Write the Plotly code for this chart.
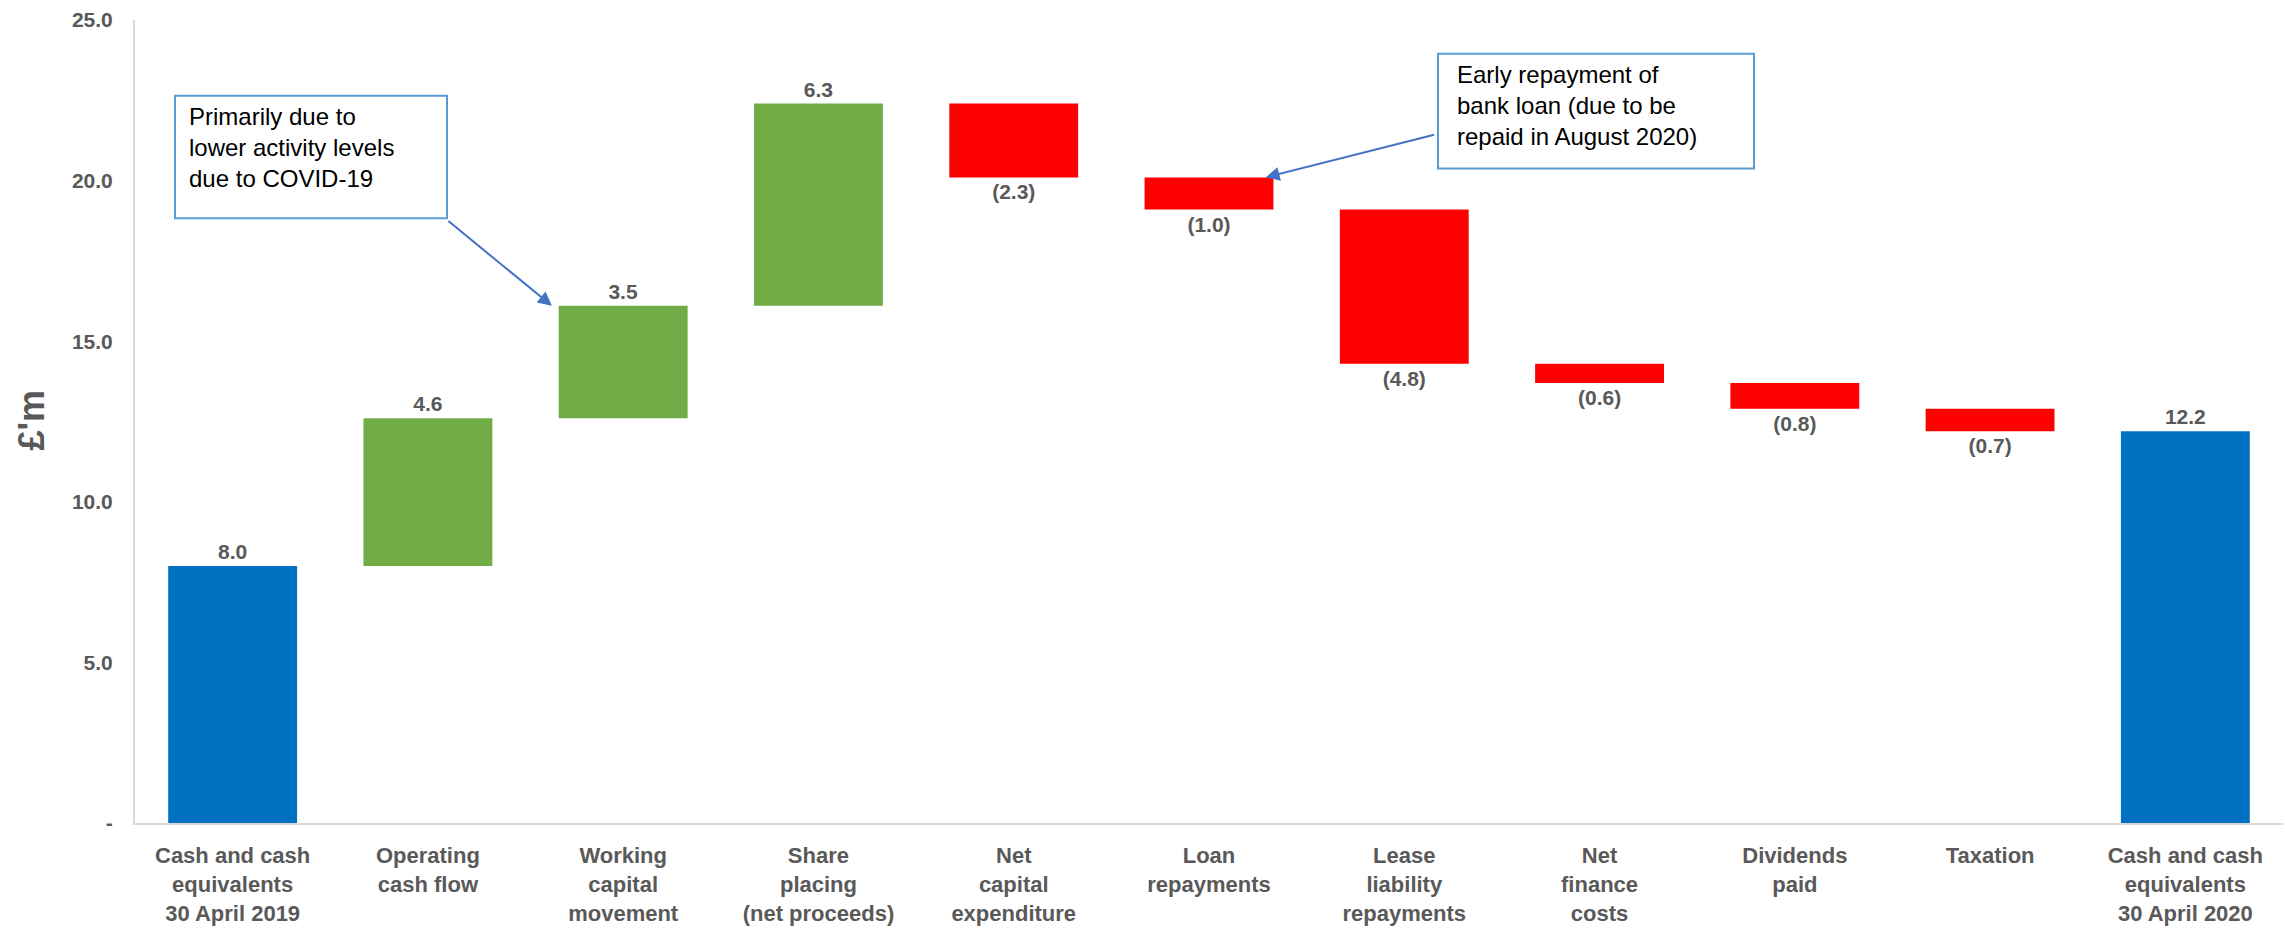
import plotly.graph_objects as go

categories = [
    "Cash and cash<br>equivalents<br>30 April 2019",
    "Operating<br>cash flow",
    "Working<br>capital<br>movement",
    "Share<br>placing<br>(net proceeds)",
    "Net<br>capital<br>expenditure",
    "Loan<br>repayments",
    "Lease<br>liability<br>repayments",
    "Net<br>finance<br>costs",
    "Dividends<br>paid",
    "Taxation",
    "Cash and cash<br>equivalents<br>30 April 2020",
]
values = [8.0, 4.6, 3.5, 6.3, -2.3, -1.0, -4.8, -0.6, -0.8, -0.7, 12.2]
kinds = ["total", "up", "up", "up", "down", "down", "down", "down", "down", "down", "total"]
ytick_vals = [0, 5, 10, 15, 20, 25]
ytick_text = ["-", "5.0", "10.0", "15.0", "20.0", "25.0"]

COLORS = {"total": "#0070C0", "up": "#70AD47", "down": "#FF0000"}
GREY = "#595959"
FONT = "Liberation Sans, Arial, sans-serif"

# compute bases
bases, heights, tops = [], [], []
running = 0.0
for v, k in zip(values, kinds):
    if k == "total":
        bases.append(0.0)
        heights.append(v)
        running = v
    else:
        bases.append(running)
        heights.append(v)
        running += v
    tops.append(max(bases[-1], bases[-1] + heights[-1]))

labels = [f"{v:.1f}" if v >= 0 else f"({abs(v):.1f})" for v in values]

fig = go.Figure()
fig.add_trace(go.Bar(
    x=list(range(len(categories))),
    y=heights,
    base=bases,
    marker=dict(color=[COLORS[k] for k in kinds], line=dict(width=0)),
    text=labels,
    textposition="outside",
    textfont=dict(family=FONT, size=21, color=GREY, weight="bold"),
    cliponaxis=False,
    hoverinfo="skip",
))

W, H = 2285, 928
L, R, T, B = 135, 2, 20, 102
pw, ph = W - L - R, H - T - B


def px(xp):
    return (xp - L) / pw


def py(yp):
    return (H - B - yp) / ph


shapes = [
    dict(type="rect", xref="paper", yref="paper",
         x0=px(175), x1=px(447), y0=py(219), y1=py(96),
         line=dict(color="#5B9BD5", width=2), fillcolor="white"),
    dict(type="rect", xref="paper", yref="paper",
         x0=px(1438), x1=px(1754), y0=py(169), y1=py(54),
         line=dict(color="#5B9BD5", width=2), fillcolor="white"),
]

annotations = [
    dict(xref="paper", yref="paper", x=px(187), y=py(101), xanchor="left", yanchor="top",
         text="Primarily due to<br>lower activity levels<br>due to COVID-19",
         align="left", showarrow=False,
         font=dict(family=FONT, size=24, color="black")),
    dict(xref="paper", yref="paper", x=px(1455), y=py(59), xanchor="left", yanchor="top",
         text="Early repayment of<br>bank loan (due to be<br>repaid in August 2020)",
         align="left", showarrow=False,
         font=dict(family=FONT, size=24, color="black")),
    dict(x=2 - 0.365, y=tops[2], xref="x", yref="y", text="", showarrow=True,
         ax=-105, ay=-86, arrowhead=2, arrowsize=1.4, arrowwidth=2,
         arrowcolor="#4472C4", standoff=0),
    dict(x=5 + 0.29, y=tops[5], xref="x", yref="y", text="", showarrow=True,
         ax=170, ay=-43, arrowhead=2, arrowsize=1.4, arrowwidth=2,
         arrowcolor="#4472C4", standoff=0),
    dict(xref="paper", yref="paper", x=px(32), y=py(422), text="£'m",
         textangle=-90, showarrow=False, xanchor="center", yanchor="middle",
         font=dict(family=FONT, size=36, color=GREY, weight="bold")),
]

fig.update_layout(
    width=W, height=H,
    margin=dict(l=L, r=R, t=T, b=B),
    paper_bgcolor="white", plot_bgcolor="white",
    showlegend=False,
    bargap=0.34,
    shapes=shapes,
    annotations=annotations,
    xaxis=dict(
        tickmode="array", tickvals=list(range(len(categories))), ticktext=categories,
        range=[-0.5, len(categories) - 0.5],
        showline=True, linecolor="#D9D9D9", linewidth=2,
        showgrid=False, zeroline=False, ticks="",
        tickfont=dict(family=FONT, size=22, color=GREY, weight="bold"),
        ticklabelstandoff=12,
    ),
    yaxis=dict(
        range=[0, 25], tickmode="array", tickvals=ytick_vals, ticktext=ytick_text,
        showline=True, linecolor="#D9D9D9", linewidth=2,
        showgrid=False, zeroline=False, ticks="",
        tickfont=dict(family=FONT, size=21, color=GREY, weight="bold"),
        ticklabelstandoff=16,
    ),
)

fig.write_html("out.html")
